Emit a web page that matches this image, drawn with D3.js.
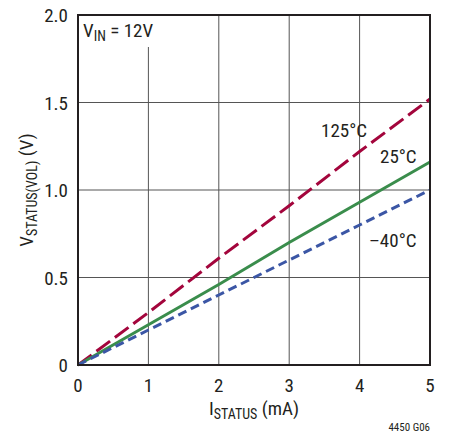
<!DOCTYPE html>
<html>
<head>
<meta charset="utf-8">
<script src="https://cdn.jsdelivr.net/npm/d3@7"></script>
<style>
  body { margin: 0; background: #fff; }
  text { font-family: "Liberation Sans Narrow", "Roboto Condensed", "Liberation Sans", sans-serif; fill: #231f20; }
</style>
</head>
<body>
<div id="chart"></div>
<script>
// Data
var currents = [0, 1, 2, 3, 4, 5];               // ISTATUS (mA)
var v125 = [0, 0.30, 0.61, 0.91, 1.22, 1.52];     // 125°C
var v25 = [0, 0.23, 0.46, 0.70, 0.93, 1.16];      // 25°C
var vm40 = [0, 0.20, 0.40, 0.60, 0.80, 1.00];     // -40°C
var xTicks = [0, 1, 2, 3, 4, 5];
var yTicks = [0, 0.5, 1.0, 1.5, 2.0];
var yTickLabels = ["0", "0.5", "1.0", "1.5", "2.0"];

var width = 455, height = 436;
// plot box edges (note: "top" is reserved on window, so use mLeft etc.)
var mLeft = 78, mRight = 430, mTop = 15, mBottom = 365;
var fs = 19;

var svg = d3.select("#chart").append("svg")
  .attr("width", width)
  .attr("height", height);

var x = d3.scaleLinear().domain([0, 5]).range([mLeft, mRight]);
var y = d3.scaleLinear().domain([0, 2]).range([mBottom, mTop]);

// grid
svg.append("g").selectAll("line")
  .data(xTicks.slice(1, -1))
  .enter().append("line")
  .attr("x1", d => x(d)).attr("x2", d => x(d))
  .attr("y1", mTop).attr("y2", mBottom)
  .attr("stroke", "#555").attr("stroke-width", 1);

svg.append("g").selectAll("line")
  .data(yTicks.slice(1, -1))
  .enter().append("line")
  .attr("x1", mLeft).attr("x2", mRight)
  .attr("y1", d => y(d)).attr("y2", d => y(d))
  .attr("stroke", "#555").attr("stroke-width", 1);

// white box behind VIN label
svg.append("rect")
  .attr("x", mLeft + 1).attr("y", mTop + 1)
  .attr("width", 82).attr("height", 31)
  .attr("fill", "#fff");

// curves
var series = [
  { vals: v125, color: "#a3053c", dash: "17,6" },
  { vals: v25, color: "#3a8d4c", dash: null },
  { vals: vm40, color: "#3b56a5", dash: "9,5" }
];

var line = d3.line()
  .x((d, i) => x(currents[i]))
  .y(d => y(d));

series.forEach(function(s) {
  svg.append("path")
    .datum(s.vals)
    .attr("d", line)
    .attr("fill", "none")
    .attr("stroke", s.color)
    .attr("stroke-width", 3)
    .attr("stroke-dasharray", s.dash);
});

// frame
svg.append("rect")
  .attr("x", mLeft).attr("y", mTop)
  .attr("width", mRight - mLeft).attr("height", mBottom - mTop)
  .attr("fill", "none").attr("stroke", "#231f20").attr("stroke-width", 2);

// tick labels
svg.append("g").selectAll("text")
  .data(xTicks)
  .enter().append("text")
  .attr("x", d => x(d))
  .attr("y", mBottom + 27)
  .attr("text-anchor", "middle")
  .attr("font-size", fs)
  .text(d => d);

svg.append("g").selectAll("text")
  .data(yTicks)
  .enter().append("text")
  .attr("x", mLeft - 10)
  .attr("y", d => y(d) + 7)
  .attr("text-anchor", "end")
  .attr("font-size", fs)
  .text((d, i) => yTickLabels[i]);

// curve labels
function label(tx, ty, str) {
  svg.append("text").attr("x", tx).attr("y", ty)
    .attr("font-size", fs).text(str);
}
label(321, 137, "125°C");
label(380, 163, "25°C");
label(369, 247, "\u201340°C");

// VIN label
var vin = svg.append("text").attr("x", mLeft + 5).attr("y", mTop + 22).attr("font-size", fs);
vin.append("tspan").text("V");
vin.append("tspan").attr("font-size", 14).attr("dy", 4).text("IN");
vin.append("tspan").attr("dy", -4).text(" = 12V");

// x axis title
var xt = svg.append("text").attr("x", (mLeft + mRight) / 2).attr("y", 415)
  .attr("text-anchor", "middle").attr("font-size", fs);
xt.append("tspan").text("I");
xt.append("tspan").attr("font-size", 14).attr("dy", 4).text("STATUS");
xt.append("tspan").attr("dy", -4).text(" (mA)");

// y axis title
var yt = svg.append("text")
  .attr("transform", "translate(33," + ((mTop + mBottom) / 2) + ") rotate(-90)")
  .attr("text-anchor", "middle").attr("font-size", fs);
yt.append("tspan").text("V");
yt.append("tspan").attr("font-size", 14).attr("dy", 4).text("STATUS(VOL)");
yt.append("tspan").attr("dy", -4).text(" (V)");

// figure code
svg.append("text").attr("x", mRight).attr("y", 431)
  .attr("text-anchor", "end").attr("font-size", 11).text("4450 G06");
</script>
</body>
</html>
